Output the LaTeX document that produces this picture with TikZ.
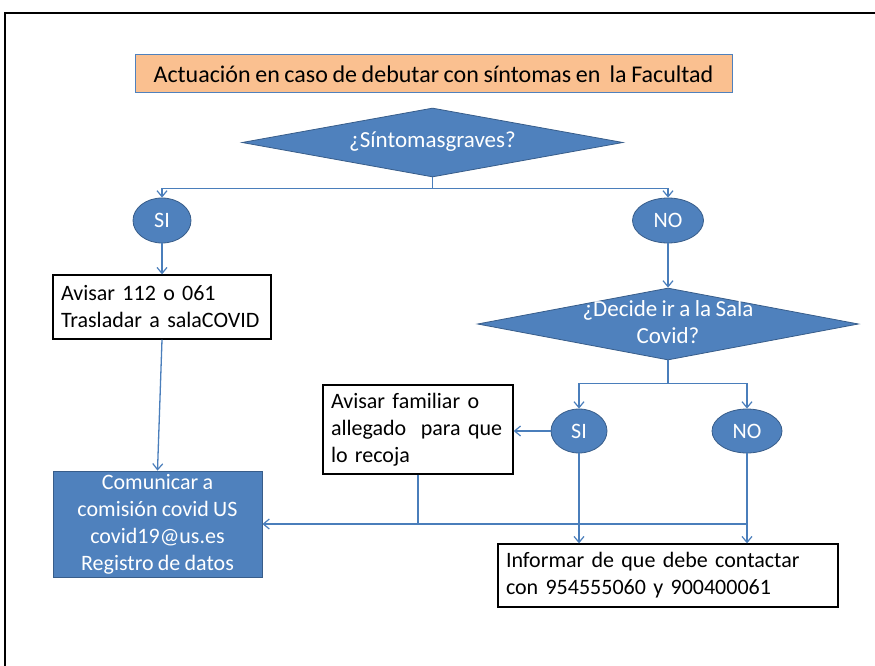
\documentclass[tikz,border=0pt]{standalone}
\usepackage{fontspec}
\setmainfont{Carlito}[WordSpace=0.85]
\usetikzlibrary{shapes.geometric,arrows.meta}
\definecolor{accblue}{RGB}{79,129,189}
\definecolor{darkblue}{RGB}{56,93,138}
\definecolor{linecol}{RGB}{74,126,187}
\definecolor{titleorange}{RGB}{250,192,144}
\tikzset{
  txt/.style={font=\fontsize{22}{27}\selectfont},
  titlebox/.style={draw=accblue, line width=1pt, fill=titleorange, minimum width=597pt, minimum height=38pt, inner sep=0pt, font=\fontsize{24}{28}\selectfont},
  decision/.style={diamond, draw=darkblue, line width=0.8pt, fill=accblue, inner sep=0pt, aspect=5.4},
  dtext/.style={text=white, align=center, inner sep=0pt, font=\fontsize{23}{27}\selectfont},
  answer/.style={ellipse, draw=darkblue, line width=0.8pt, fill=accblue, inner sep=0pt, text=white, font=\fontsize{22}{25}\selectfont},
  whitebox/.style={draw=black, line width=1.3pt, fill=white, inner xsep=8pt, inner ysep=0pt, align=left, txt},
  bluebox/.style={draw=darkblue, line width=0.8pt, fill=accblue, text=white, inner sep=0pt, align=center, txt},
  conn/.style={draw=linecol, line width=1.3pt},
  arr/.style={conn, -{Straight Barb[length=6pt,width=10pt,line width=1.2pt]}},
}
\begin{document}
\begin{tikzpicture}[x=1pt,y=-1pt]
\useasboundingbox (0,0) rectangle (875,666);
% frame
\draw[line width=1.5pt] (5,666) -- (5,13) -- (876,13);

\node[titlebox] (title) at (433.5,74) {Actuación en caso de debutar con síntomas en\ \ la Facultad};

\node[decision, minimum width=381pt, minimum height=69pt] (d1) at (432.5,142.5) {};
\node[dtext] (d1t) at (432.5,142) {¿Síntomasgraves?};

\node[answer, minimum width=58pt, minimum height=45pt] (si1) at (162,220.5) {SI};
\node[answer, minimum width=71pt, minimum height=45pt] (no1) at (668,220.5) {NO};

\node[whitebox, minimum width=218pt, minimum height=64pt, text width=202pt] (b1) at (162,307) {Avisar 112 o 061\\Trasladar a salaCOVID};

\node[decision, minimum width=381pt, minimum height=72pt] (d2) at (668,324) {};
\node[dtext] (d2t) at (668,322) {¿Decide ir a la Sala\\Covid?};

\node[answer, minimum width=56pt, minimum height=44pt] (si2) at (579,431) {SI};
\node[answer, minimum width=70pt, minimum height=44pt] (no2) at (747,431) {NO};

\node[whitebox, minimum width=190pt, minimum height=89pt, text width=174pt] (fam) at (418,429.5) {Avisar familiar o\\allegado\ \ para que\\lo recoja};

\node[bluebox, minimum width=209pt, minimum height=106pt] (com) at (157.5,524) {Comunicar a\\comisión covid US\\covid19@us.es\\Registro de datos};

\node[whitebox, minimum width=340pt, minimum height=63pt, text width=324pt] (inf) at (668,575.5) {Informar de que debe contactar\\con 954555060 y 900400061};

% connectors
\draw[arr] (d1.south) -- ++(0,11) -| (si1.north);
\draw[arr] (d1.south) -- ++(0,11) -| (no1.north);
\draw[arr] (si1.south) -- (b1.north);
\draw[arr] (no1.south) -- (d2.north);
\draw[arr] (d2.south) -- ++(0,23) -| (si2.north);
\draw[arr] (d2.south) -- ++(0,23) -| (no2.north);
\draw[arr] (si2.west) -- (si2.west -| fam.east);
\draw[arr] (b1.south) -- (com.north);
\draw[arr] (si2.south) -- (si2.south |- inf.north);
\draw[arr] (no2.south) -- (no2.south |- inf.north);
\draw[conn] (fam.south) -- (fam.south |- com.east);
\draw[arr] (no2.south |- com.east) -- (com.east);
\end{tikzpicture}
\end{document}
